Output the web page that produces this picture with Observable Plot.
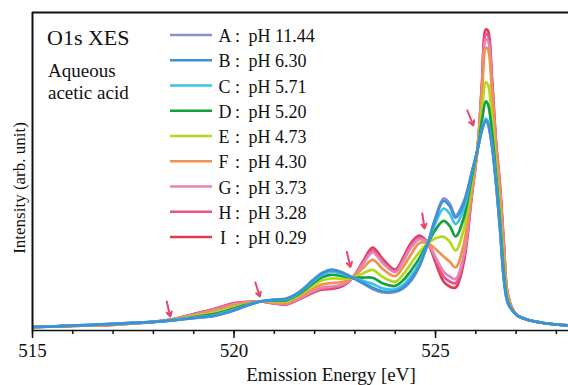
<!DOCTYPE html>
<html>
<head>
<meta charset="utf-8">
<script src="https://cdn.jsdelivr.net/npm/d3@7"></script>
<script src="https://cdn.jsdelivr.net/npm/@observablehq/plot@0.6"></script>
<style>
  body { margin: 0; background: #fff; }
  #chart { width: 568px; height: 385px; }
</style>
</head>
<body>
<div id="chart"></div>
<script>
// Emission energy (eV)
const energy = [515.0, 515.5, 516.0, 516.5, 517.0, 517.5, 518.0, 518.5, 519.0, 519.5, 520.0, 520.3, 520.65, 521.0, 521.3, 521.6, 522.0, 522.2, 522.4, 522.6, 522.8, 523.0, 523.2, 523.44, 523.7, 524.0, 524.2, 524.4, 524.6, 524.8, 525.0, 525.2, 525.35, 525.5, 525.7, 525.9, 526.05, 526.15, 526.25, 526.3, 526.4, 526.5, 526.6, 526.7, 526.8, 527.0, 527.3, 527.6, 528.0, 528.3];

// Intensity (arb. unit) for each pH
const serA = [3.5, 4, 5, 5.7, 6.7, 7.7, 8.7, 10.2, 12.3, 14.5, 20, 24.5, 29, 31, 32, 38, 52, 58, 61, 59.5, 56, 51.5, 47, 41.5, 38, 38.5, 42, 50, 64, 86, 113, 132, 127, 115, 129, 158, 182, 200, 210, 207, 185, 148, 102, 50, 27, 16, 10.5, 8, 6, 5];
const serB = [3.5, 4, 5, 5.7, 6.7, 7.7, 8.7, 10.2, 12.4, 14.7, 20.2, 24.6, 29, 30.9, 31.8, 37.8, 51.6, 57.5, 60.4, 59.0, 55.7, 51.6, 47.7, 42.7, 39.0, 39.2, 42.9, 51.1, 64.9, 86.1, 111.7, 129.5, 124.5, 112.8, 127.2, 158, 182, 200, 210, 207, 185, 148, 102, 50, 27, 16, 10.5, 8, 6, 5];
const serC = [3.5, 4, 5, 5.6, 6.6, 7.6, 8.6, 10.4, 12.8, 15.3, 20.9, 25.0, 29, 30.5, 31.3, 37.2, 50.4, 56.0, 58.7, 57.5, 54.9, 52.0, 49.6, 46.5, 42.0, 41.2, 45.7, 54.6, 67.7, 86.2, 107.6, 122.0, 117.0, 106.4, 121.7, 157.5, 182.1, 200.9, 211.8, 208.9, 186.4, 148.8, 102.9, 50.7, 27.2, 16, 10.5, 8, 6, 5];
const serD = [3.5, 4, 4.9, 5.5, 6.4, 7.5, 8.6, 10.6, 13.4, 16.4, 22.0, 25.6, 29, 29.9, 30.4, 36.1, 48.4, 53.4, 55.7, 55.0, 53.6, 52.7, 52.9, 52.7, 46.9, 44.6, 50.4, 60.3, 72.4, 86.5, 100.9, 109.6, 104.6, 94, 112.5, 153.2, 182.6, 209.5, 229.1, 226.5, 199.3, 156.8, 111.0, 57.4, 28.7, 16, 10.5, 8, 6, 5];
const serE = [3.5, 4, 4.9, 5.4, 6.2, 7.4, 8.6, 10.8, 14.2, 17.7, 23.4, 26.3, 29, 29.2, 29.2, 34.8, 45.8, 50.2, 52.0, 51.9, 51.9, 53.6, 57.1, 60.6, 53.2, 48.9, 56.3, 67.5, 78.3, 86.9, 92.3, 93.8, 88.8, 80, 100.9, 148.3, 183.3, 218.9, 248.2, 246.1, 213.6, 165.6, 120.1, 64.7, 30.4, 16, 10.5, 8, 6, 5];
const serF = [3.5, 4, 4.8, 5.2, 6.0, 7.2, 8.6, 11.1, 15.2, 19.4, 25.1, 27.3, 29, 28.2, 27.8, 33.1, 42.6, 46.1, 47.4, 48.0, 49.7, 54.7, 62.4, 70.6, 61.1, 54.3, 63.7, 76.6, 87.5, 87.4, 81.5, 73.9, 68.9, 63, 86.3, 139.6, 184.4, 236.0, 282.8, 281.4, 239.4, 181.6, 136.4, 78.0, 33.4, 16, 10.5, 8, 6, 5];
const serG = [3.5, 4, 4.7, 5.1, 5.8, 7.1, 8.6, 11.3, 16.0, 20.7, 26.4, 28.0, 29, 27.5, 26.7, 31.8, 40.1, 43.0, 43.8, 45.0, 48.1, 55.5, 66.4, 78.0, 67.0, 58.3, 69.3, 83.4, 91.3, 87.8, 73.4, 59.0, 54.0, 51.6, 75.3, 137.5, 184.7, 240.0, 291.0, 289.8, 245.5, 185.4, 140.3, 81.2, 34.1, 16, 10.5, 8, 6, 5];
const serH = [3.5, 4, 4.7, 5.0, 5.8, 7.0, 8.6, 11.4, 16.2, 21.1, 26.9, 28.3, 29, 27.2, 26.4, 31.4, 39.3, 42.0, 42.7, 44.0, 47.5, 55.7, 67.7, 80.5, 69.0, 59.7, 71.1, 85.7, 93.1, 87.9, 70.7, 54.0, 49.0, 47.3, 71.7, 136.2, 184.9, 242.8, 296.5, 295.4, 249.6, 187.9, 142.9, 83.3, 34.6, 16, 10.5, 8, 6, 5];
const serI = [3.5, 4, 4.7, 5, 5.7, 7, 8.5, 11.5, 16.5, 21.5, 27.3, 28.5, 29, 27, 26, 31, 38.5, 41, 41.5, 43, 47, 56, 69, 83, 71, 61, 73, 88, 95, 88, 68, 49, 44, 43, 68, 135, 185, 245, 301, 300, 253, 190, 145, 85, 35, 16, 10.5, 8, 6, 5];

const letters = ["A", "B", "C", "D", "E", "F", "G", "H", "I"];
const phValues = ["11.44", "6.30", "5.71", "5.20", "4.73", "4.30", "3.73", "3.28", "0.29"];
const colors = ["#8b8fd2", "#3a93d8", "#3fc0e6", "#13a043", "#b5d81c", "#f0924c", "#e285b6", "#e9528c", "#e2394f"];
const seriesValues = {A: serA, B: serB, C: serC, D: serD, E: serE, F: serF, G: serG, H: serH, I: serI};

// isosbestic-point arrows (eV, intensity)
const arrowX1 = [518.33, 520.53, 522.80, 524.67, 525.79];
const arrowY1 = [29, 48, 78.5, 117, 220];
const arrowX2 = [518.42, 520.64, 522.89, 524.73, 525.94];
const arrowY2 = [14, 34, 63.5, 102, 205];

const majorTicks = [515, 520, 525];
const minorTicks = d3.range(515, 529);

// draw order: I first ... B last (blue on top)
const drawOrder = ["I", "H", "G", "F", "E", "D", "C", "A", "B"];
const table = [];
for (const s of drawOrder) {
  seriesValues[s].forEach((v, i) => table.push({series: s, energy: energy[i], value: v}));
}
const arrows = arrowX1.map((x, i) => ({x1: x, y1: arrowY1[i], x2: arrowX2[i], y2: arrowY2[i]}));

const svg = Plot.plot({
  width: 568,
  height: 385,
  marginLeft: 32,
  marginRight: 0,
  marginTop: 12,
  marginBottom: 55,
  x: {domain: [515, 528.3], label: null},
  y: {domain: [0, 318], axis: null},
  color: {domain: letters, range: colors},
  style: {fontFamily: "'Liberation Serif', 'Times New Roman', serif", color: "#111", background: "#fff"},
  marks: [
    Plot.line(table, {x: "energy", y: "value", z: "series", stroke: "series", strokeWidth: 2.7, curve: "catmull-rom", clip: true}),
    Plot.arrow(arrows, {x1: "x1", y1: "y1", x2: "x2", y2: "y2", stroke: "#e8446e", strokeWidth: 2, headLength: 6}),
    Plot.ruleY([0], {strokeWidth: 1.6, stroke: "#111"}),
    Plot.ruleY([318], {strokeWidth: 2, stroke: "#111"}),
    Plot.ruleX([515], {strokeWidth: 2, stroke: "#111"}),
    Plot.axisX(minorTicks, {tickSize: 4, strokeWidth: 1.5, tickFormat: () => "", label: null}),
    Plot.axisX(majorTicks, {tickSize: 8, strokeWidth: 1.5, tickPadding: 5, fontSize: 19, tickFormat: d => String(d), label: null})
  ]
});
document.getElementById("chart").appendChild(svg);

const root = d3.select(svg);
const font = "'Liberation Serif', 'Times New Roman', serif";
const ann = root.append("g").attr("font-family", font).attr("fill", "#111").attr("text-anchor", "start");

ann.append("text").attr("x", 47).attr("y", 45).attr("font-size", 22).text("O1s XES");
ann.append("text").attr("x", 48).attr("y", 77).attr("font-size", 19).text("Aqueous");
ann.append("text").attr("x", 48).attr("y", 99).attr("font-size", 19).text("acetic acid");

// axis titles
ann.append("text").attr("x", 331).attr("y", 381).attr("font-size", 19).attr("text-anchor", "middle").text("Emission Energy [eV]");
ann.append("text").attr("transform", "translate(25,188) rotate(-90)").attr("font-size", 17).attr("text-anchor", "middle").text("Intensity (arb. unit)");

// legend
const leg = root.append("g").attr("font-family", font).attr("fill", "#111").attr("font-size", 18).attr("text-anchor", "start");
letters.forEach((l, i) => {
  const yb = 42 + 25.25 * i;
  leg.append("line").attr("x1", 170).attr("x2", 212).attr("y1", yb - 7).attr("y2", yb - 7)
    .attr("stroke", colors[i]).attr("stroke-width", 2.7);
  leg.append("text").attr("x", l === "I" ? 220 : 218.5).attr("y", yb).text(l);
  leg.append("text").attr("x", 235).attr("y", yb).text(":");
  leg.append("text").attr("x", 248.5).attr("y", yb).text("pH " + phValues[i]);
});
</script>
</body>
</html>
